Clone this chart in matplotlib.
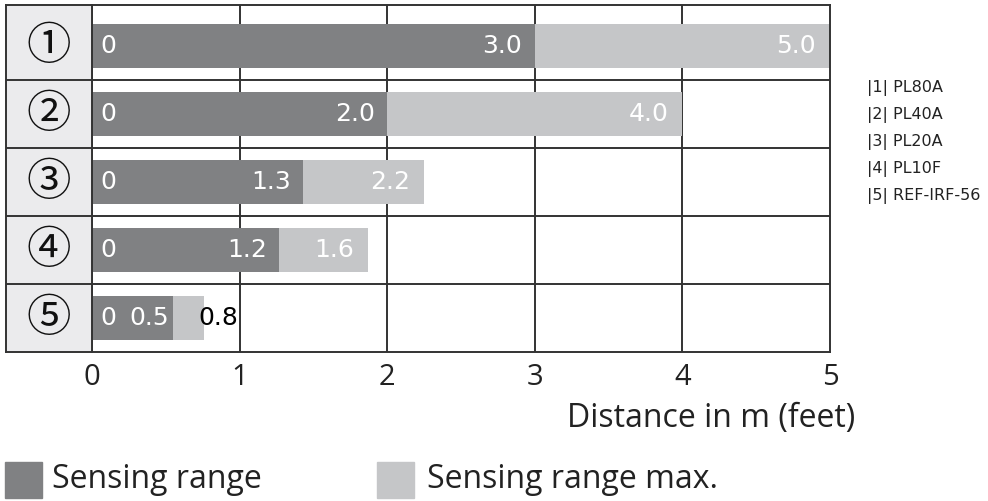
import matplotlib
matplotlib.use("Agg")
import matplotlib.pyplot as plt
from matplotlib.patches import Rectangle

# ---- data ----
row_labels = ["①", "②", "③", "④", "⑤"]
models = ["|1| PL80A", "|2| PL40A", "|3| PL20A", "|4| PL10F", "|5| REF-IRF-56"]
sensing_range = [3.0, 2.0, 1.43, 1.27, 0.55]
sensing_range_max = [5.0, 4.0, 2.25, 1.87, 0.76]
range_text = ["3.0", "2.0", "1.3", "1.2", "0.5"]
max_text = ["5.0", "4.0", "2.2", "1.6", "0.8"]
x_ticks = [0, 1, 2, 3, 4, 5]
x_label = "Distance in m (feet)"
legend_labels = ["Sensing range", "Sensing range max."]

DARK = "#808183"
LIGHT = "#c5c6c8"
LINE = "#333333"
TXT = "#222222"
SANS = ["Open Sans", "DejaVu Sans"]
BARF = ["DejaVu Sans"]

W, H = 988, 501
fig = plt.figure(figsize=(W / 100, H / 100), dpi=100)

def fx(px):
    return px / W

def fy(py):
    return 1 - py / H

top_px, bot_px = 5, 352
left_px, right_px = 92, 830
n = len(row_labels)
ys = list(range(n))
ytop = -0.5 - 7 / 68  # first row slightly taller

ax = fig.add_axes([fx(left_px), fy(bot_px), fx(right_px - left_px), (bot_px - top_px) / H])
ax.set_xlim(0, 5)
ax.set_ylim(n - 0.5, ytop)

for xv in x_ticks[1:-1]:
    ax.axvline(xv, color=LINE, lw=1.4, zorder=1)
for i in range(n - 1):
    ax.axhline(i + 0.5, color=LINE, lw=1.4, zorder=3)

bh = 0.66
ax.barh(ys, sensing_range, height=bh, color=DARK, zorder=2)
ax.barh(ys, [m - r for m, r in zip(sensing_range_max, sensing_range)], left=sensing_range,
        height=bh, color=LIGHT, zorder=2)

fs_bar = 18
for i in ys:
    ax.annotate("0", (0, i), xytext=(6, 0), textcoords="offset points", ha="left", va="center",
                color="white", fontsize=fs_bar, family=BARF, zorder=4)
    if i < n - 1:
        ax.annotate(range_text[i], (sensing_range[i], i), xytext=(-9, 0), textcoords="offset points",
                    ha="right", va="center", color="white", fontsize=fs_bar, family=BARF, zorder=4)
        ax.annotate(max_text[i], (sensing_range_max[i], i), xytext=(-10, 0), textcoords="offset points",
                    ha="right", va="center", color="white", fontsize=fs_bar, family=BARF, zorder=4)
    else:
        ax.annotate(range_text[i], (sensing_range[i], i), xytext=(-3, 0), textcoords="offset points",
                    ha="right", va="center", color="white", fontsize=fs_bar, family=BARF, zorder=4)
        ax.annotate(max_text[i], (sensing_range_max[i], i), xytext=(-4, 0), textcoords="offset points",
                    ha="left", va="center", color="black", fontsize=fs_bar, family=BARF, zorder=4)

for s in ax.spines.values():
    s.set_color(LINE)
    s.set_linewidth(1.4)
ax.set_yticks([])
ax.set_xticks(x_ticks)
ax.set_xticklabels([str(t) for t in x_ticks], fontsize=21, family=SANS, color=TXT)
ax.tick_params(axis="x", length=0, pad=8)

# left label column
lab = fig.add_axes([fx(6), fy(bot_px), fx(left_px - 6), (bot_px - top_px) / H])
lab.set_xlim(0, 1)
lab.set_ylim(n - 0.5, ytop)
lab.set_facecolor("#ebebed")
lab.set_xticks([])
lab.set_yticks([])
for s in lab.spines.values():
    s.set_color(LINE)
    s.set_linewidth(1.4)
for i in range(n - 1):
    lab.axhline(i + 0.5, color=LINE, lw=1.4)
for i, t in enumerate(row_labels):
    lab.text(0.5, i, t, ha="center", va="center", fontsize=32, color="#111111",
             family=["Noto Sans CJK JP", "DejaVu Sans"])

fig.text(fx(855), fy(418), x_label, ha="right", va="center", fontsize=23, family=SANS, color=TXT)

for i, m in enumerate(models):
    fig.text(fx(867), fy(88 + 27 * i), m, ha="left", va="center", fontsize=11.5,
             family=["DejaVu Sans"], color=TXT)

fig.patches.append(Rectangle((fx(5), fy(498)), fx(37), 36 / H, color=DARK, transform=fig.transFigure))
fig.text(fx(52), fy(479), legend_labels[0], ha="left", va="center", fontsize=23, family=SANS, color=TXT)
fig.patches.append(Rectangle((fx(377), fy(498)), fx(37), 36 / H, color=LIGHT, transform=fig.transFigure))
fig.text(fx(427), fy(479), legend_labels[1], ha="left", va="center", fontsize=23, family=SANS, color=TXT)

fig.savefig("out.png", dpi=100)
